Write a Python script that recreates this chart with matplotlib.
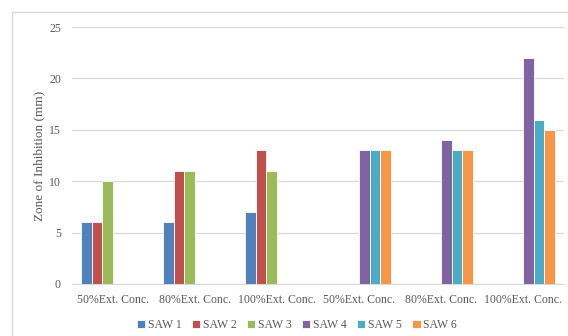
import numpy as np
import matplotlib
matplotlib.use("Agg")
from matplotlib import pyplot as plt
from matplotlib.patches import Rectangle

# categories and series
categories = ["50%Ext. Conc.", "80%Ext. Conc.", "100%Ext. Conc.",
              "50%Ext. Conc.", "80%Ext. Conc.", "100%Ext. Conc."]
series_names = ["SAW 1", "SAW 2", "SAW 3", "SAW 4", "SAW 5", "SAW 6"]
saw1 = [6, 6, 7, 0, 0, 0]
saw2 = [6, 11, 13, 0, 0, 0]
saw3 = [10, 11, 11, 0, 0, 0]
saw4 = [0, 0, 0, 13, 14, 22]
saw5 = [0, 0, 0, 13, 13, 16]
saw6 = [0, 0, 0, 13, 13, 15]
colors = ["#4F81BD", "#C0504D", "#9BBB59", "#8064A2", "#4BACC6", "#F79646"]

plt.rcParams["font.family"] = ["Liberation Serif", "DejaVu Serif"]
txt = "#595959"

fig = plt.figure(figsize=(5.68, 3.36), dpi=100)
ax = fig.add_axes([0.1268, 0.1548, 0.8662, 0.7648])

# chart border
fig.patches.append(Rectangle((12 / 568, -0.1), 1.2, 1.1 - 12 / 336,
                             transform=fig.transFigure, fill=False,
                             edgecolor="#D9D9D9", linewidth=1))

x = np.arange(len(categories))
bw = 0.78 / 6
all_series = [saw1, saw2, saw3, saw4, saw5, saw6]
for i, vals in enumerate(all_series):
    ax.bar(x - 0.39 + bw * (i + 0.5), vals, width=bw, color=colors[i],
           edgecolor="white", linewidth=0.6, label=series_names[i], zorder=3)

ax.set_xlim(-0.5, len(categories) - 0.5)
ax.set_ylim(0, 25)
ax.set_yticks([0, 5, 10, 15, 20, 25])
ax.set_xticks(x)
ax.set_xticklabels(categories)
ax.grid(axis="y", color="#D9D9D9", linewidth=0.9, zorder=0)
for s in ["top", "right", "left"]:
    ax.spines[s].set_visible(False)
ax.spines["bottom"].set_color("#D9D9D9")
ax.tick_params(length=0, colors=txt, labelsize=8.5)
ax.tick_params(axis="x", pad=7)
ax.tick_params(axis="y", pad=8)
ax.set_ylabel("Zone of Inhibition (mm)", color=txt, fontsize=9.5, labelpad=3)

ax.legend(loc="center", bbox_to_anchor=(0.457, -0.16), ncol=6,
          frameon=False, fontsize=8.5, labelcolor=txt, handlelength=0.7,
          handleheight=0.7, handletextpad=0.2, columnspacing=0.9)

fig.savefig("out.png", dpi=100)
